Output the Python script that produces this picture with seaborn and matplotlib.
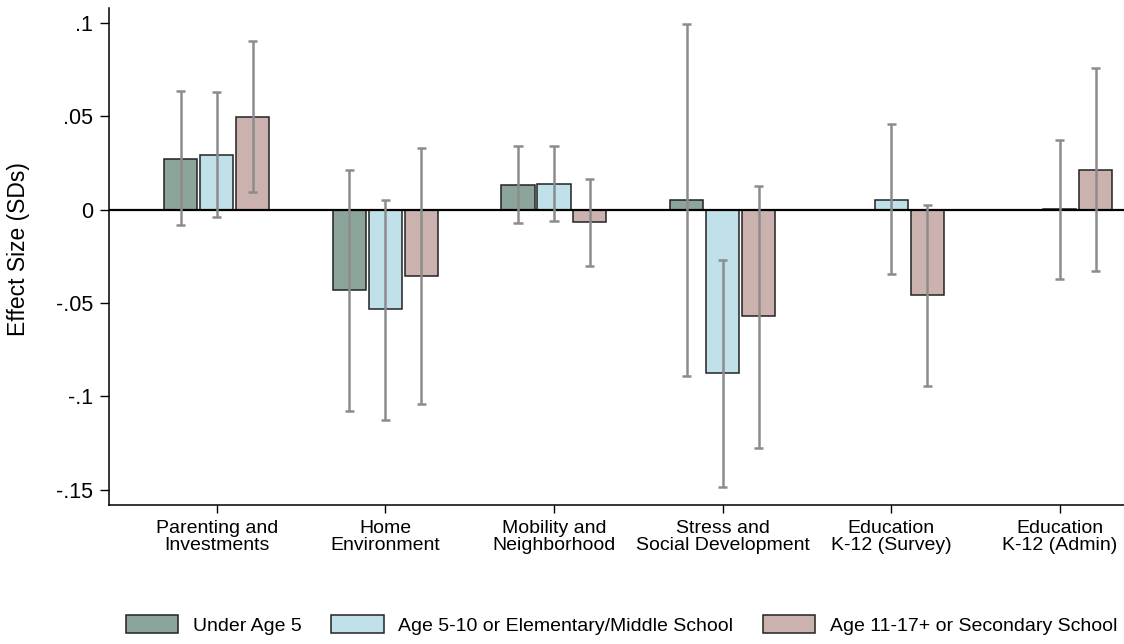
import numpy as np
import pandas as pd
import seaborn as sns
import matplotlib
matplotlib.use('Agg')
import matplotlib.pyplot as plt
from matplotlib.patches import Patch

# category labels (x axis)
categories = ['Parenting and\nInvestments', 'Home\nEnvironment', 'Mobility and\nNeighborhood',
              'Stress and\nSocial Development', 'Education\nK-12 (Survey)', 'Education\nK-12 (Admin)']
groups = ['Under Age 5', 'Age 5-10 or Elementary/Middle School', 'Age 11-17+ or Secondary School']

# point estimates
under5 = [0.0273, -0.0429, 0.0130, 0.0050, np.nan, np.nan]
age5_10 = [0.0293, -0.0534, 0.0138, -0.0874, 0.0052, 0.0003]
age11_17 = [0.0495, -0.0355, -0.0066, -0.0570, -0.0456, 0.0213]

# confidence intervals
under5_lo = [-0.0082, -0.1079, -0.0071, -0.0888, np.nan, np.nan]
under5_hi = [0.0636, 0.0213, 0.0338, 0.0995, np.nan, np.nan]
age5_10_lo = [-0.0041, -0.1127, -0.0059, -0.1484, -0.0345, -0.0370]
age5_10_hi = [0.0631, 0.0052, 0.0341, -0.0270, 0.0456, 0.0374]
age11_17_lo = [0.0093, -0.1041, -0.0304, -0.1277, -0.0943, -0.0327]
age11_17_hi = [0.0900, 0.0327, 0.0164, 0.0127, 0.0027, 0.0759]

yticks = [0.1, 0.05, 0, -0.05, -0.1, -0.15]
ytick_labels = ['.1', '.05', '0', '-.05', '-.1', '-.15']

colors = ['#8ba59b', '#c0e0ea', '#cbb2ae']

rows = []
for g, vals, lo, hi in zip(groups, [under5, age5_10, age11_17],
                           [under5_lo, age5_10_lo, age11_17_lo],
                           [under5_hi, age5_10_hi, age11_17_hi]):
    for c, v, l, h in zip(categories, vals, lo, hi):
        rows.append({'category': c, 'group': g, 'value': v, 'lo': l, 'hi': h})
df = pd.DataFrame(rows)

sns.set_style('white')
plt.rcParams['font.family'] = ['Liberation Sans', 'DejaVu Sans']
plt.rcParams['text.color'] = 'black'
plt.rcParams['xtick.color'] = 'black'
plt.rcParams['ytick.color'] = 'black'
plt.rcParams['axes.labelcolor'] = 'black'

fig = plt.figure(figsize=(11.24, 6.44), dpi=100)
ax = fig.add_axes([0.097, 0.216, 0.903, 0.772])

sns.barplot(data=df.dropna(subset=['value']), x='category', y='value', hue='group',
            order=categories, hue_order=groups, palette=colors, errorbar=None,
            width=0.64, gap=0.08, edgecolor='#222222', linewidth=1.1,
            saturation=1, legend=False, ax=ax)

ax.axhline(0, color='black', lw=1.6, zorder=3)

# error bars at each drawn bar
for g, cont in zip(groups, ax.containers):
    sub = df[df['group'] == g].set_index('category')
    for bar in cont:
        xc = bar.get_x() + bar.get_width() / 2
        cat = categories[int(round(xc))]
        lo, hi = sub.loc[cat, 'lo'], sub.loc[cat, 'hi']
        ax.plot([xc, xc], [lo, hi], color='#8c8c8c', lw=1.8, zorder=4, solid_capstyle='butt')
        for yv in (lo, hi):
            ax.plot([xc - 0.027, xc + 0.027], [yv, yv], color='#8c8c8c', lw=1.8, zorder=4,
                    solid_capstyle='butt')

ax.set_xlim(-0.639, 5.381)
ax.set_ylim(-0.158, 0.108)
ax.set_yticks(yticks)
ax.set_yticklabels(ytick_labels, fontsize=15.5)
ax.set_xticks(range(len(categories)))
ax.set_xticklabels(categories, fontsize=14, linespacing=1.0)
ax.tick_params(axis='x', length=6, width=1, direction='out', bottom=True, pad=5)
ax.tick_params(axis='y', length=6.5, width=1, direction='out', left=True, pad=5)
ax.set_xlabel('')
ax.set_ylabel('Effect Size (SDs)', fontsize=16.5)
ax.yaxis.set_label_coords(-0.078, 0.515)

for s in ['top', 'right']:
    ax.spines[s].set_visible(False)
for s in ['left', 'bottom']:
    ax.spines[s].set_color('black')
    ax.spines[s].set_linewidth(1.1)

handles = [Patch(facecolor=c, edgecolor='#222222', lw=1.1) for c in colors]
fig.legend(handles, groups, loc='center', bbox_to_anchor=(0.553, 0.03), ncol=3,
           frameon=False, fontsize=14, handlelength=2.7, handleheight=1.1,
           handletextpad=0.77, columnspacing=1.5)

fig.savefig('out.png', dpi=100)
